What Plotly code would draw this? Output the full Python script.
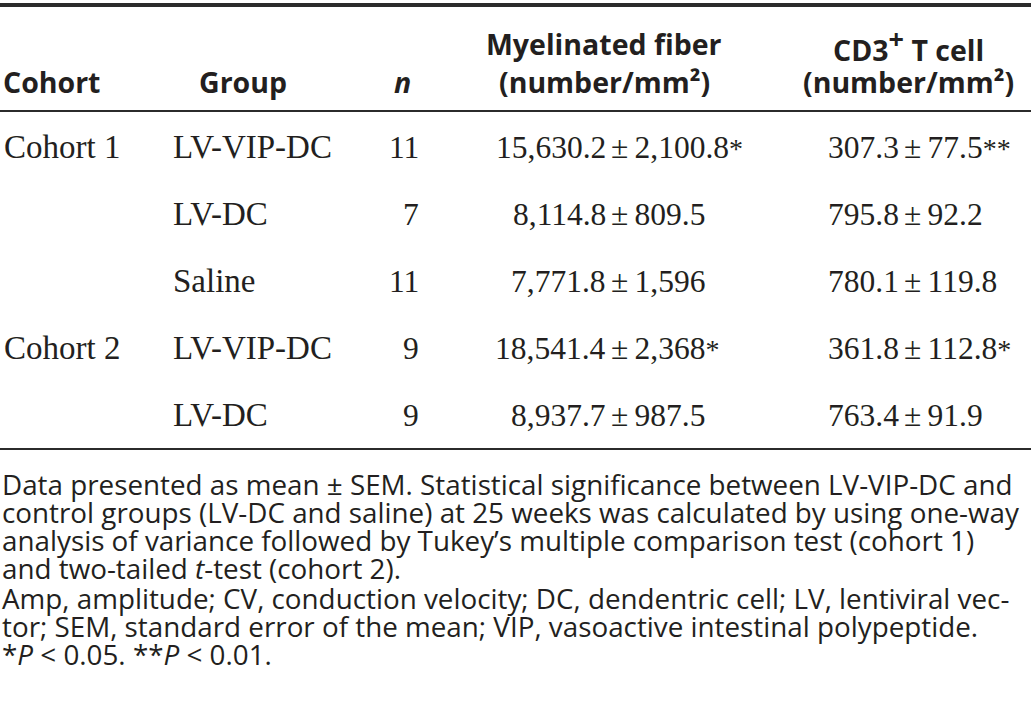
import plotly.graph_objects as go

# ---------------- data ----------------
cohorts = ["Cohort 1", "", "", "Cohort 2", ""]
groups = ["LV-VIP-DC", "LV-DC", "Saline", "LV-VIP-DC", "LV-DC"]
n_values = ["11", "7", "11", "9", "9"]
fiber_mean = ["15,630.2", "8,114.8", "7,771.8", "18,541.4", "8,937.7"]
fiber_sem = ["2,100.8", "809.5", "1,596", "2,368", "987.5"]
fiber_sig = ["*", "", "", "*", ""]
cd3_mean = ["307.3", "795.8", "780.1", "361.8", "763.4"]
cd3_sem = ["77.5", "92.2", "119.8", "112.8", "91.9"]
cd3_sig = ["**", "", "", "*", ""]

header_cols = ["Cohort", "Group", "<i>n</i>",
               "Myelinated fiber<br>(number/mm²)",
               "CD3<sup><span style=\"font-size:27px\">+</span></sup> T cell<br>(number/mm²)"]

footnotes = [
    "Data presented as mean ± SEM. Statistical significance between LV-VIP-DC and",
    "control groups (LV-DC and saline) at 25 weeks was calculated by using one-way",
    "analysis of variance followed by Tukey’s multiple comparison test (cohort 1)",
    "and two-tailed <i>t</i>-test (cohort 2).",
    "Amp, amplitude; CV, conduction velocity; DC, dendentric cell; LV, lentiviral vec-",
    "tor; SEM, standard error of the mean; VIP, vasoactive intestinal polypeptide.",
    "*<i>P</i> &lt; 0.05. **<i>P</i> &lt; 0.01.",
]

# ---------------- style / layout ----------------
W, H = 1036, 702
TXT = "#231f20"
SERIF = "Liberation Serif"
SANS = "Open Sans"
BODY_SIZE = 33
NUM_SIZE = 31.5
STAR_SIZE = 28
HEAD_SIZE = 28.5
FOOT_SIZE = 27.8

cohort_x = 4
group_x = 173
n_x = 419
fiber_pm_x = 611
cd3_pm_x = 904
pm_gap = 5

head_line1_y = 44
head_line2_y = 82
head_centers = {"Group": 243, "n": 402, "fiber": 604, "cd3": 908}

row0_y = 147
row_step = 67

rule_top_y = 5
rule_head_y = 111
rule_bot_y = 449
rule_x0, rule_x1 = 0, 1031

foot0_y = 484
foot_step = 28.0

fig = go.Figure()
fig.add_trace(go.Scatter(x=[0, W], y=[0, H], mode="lines",
                         line=dict(width=0, color="rgba(0,0,0,0)"),
                         hoverinfo="skip", showlegend=False))

ann = []


def add(text, x, y, xanchor, font, size, yanchor="middle"):
    ann.append(dict(text=text, x=x, y=y, xref="x", yref="y",
                    xanchor=xanchor, yanchor=yanchor, showarrow=False,
                    borderpad=0, borderwidth=0,
                    align="center" if xanchor == "center" else xanchor,
                    font=dict(family=font, size=size, color=TXT)))


def star(s):
    return f'<span style="font-size:{STAR_SIZE}px">{s}</span>' if s else ""


# header
add("<b>" + header_cols[0] + "</b>", cohort_x - 1, head_line2_y, "left", SANS, HEAD_SIZE)
add("<b>" + header_cols[1] + "</b>", head_centers["Group"], head_line2_y, "center", SANS, HEAD_SIZE)
add("<b>" + header_cols[2] + "</b>", head_centers["n"], head_line2_y, "center", SANS, HEAD_SIZE)
for key, txt in (("fiber", header_cols[3]), ("cd3", header_cols[4])):
    l1, l2 = txt.split("<br>")
    add("<b>" + l1 + "</b>", head_centers[key], head_line1_y, "center", SANS, HEAD_SIZE)
    add("<b>" + l2 + "</b>", head_centers[key], head_line2_y, "center", SANS, HEAD_SIZE)

# body rows
for i in range(len(groups)):
    y = row0_y + i * row_step
    if cohorts[i]:
        add(cohorts[i], cohort_x, y, "left", SERIF, BODY_SIZE)
    add(groups[i], group_x, y, "left", SERIF, BODY_SIZE)
    add(n_values[i], n_x, y, "right", SERIF, NUM_SIZE)
    add(fiber_mean[i], fiber_pm_x - pm_gap, y, "right", SERIF, NUM_SIZE)
    add("±\u2009" + fiber_sem[i] + star(fiber_sig[i]), fiber_pm_x, y, "left", SERIF, NUM_SIZE)
    add(cd3_mean[i], cd3_pm_x - pm_gap, y, "right", SERIF, NUM_SIZE)
    add("±\u2009" + cd3_sem[i] + star(cd3_sig[i]), cd3_pm_x, y, "left", SERIF, NUM_SIZE)

# footnotes
for j, line in enumerate(footnotes):
    add(line, 2, foot0_y + j * foot_step + (2 if j >= 4 else 0), "left", SANS, FOOT_SIZE)

shapes = []
for yy, w in ((rule_top_y, 4), (rule_head_y, 2.2), (rule_bot_y, 2.2)):
    shapes.append(dict(type="line", xref="x", yref="y", x0=rule_x0, x1=rule_x1,
                       y0=yy, y1=yy, line=dict(color="#2b2b2b", width=w)))

fig.update_layout(
    width=W, height=H, margin=dict(l=0, r=0, t=0, b=0),
    paper_bgcolor="white", plot_bgcolor="white",
    xaxis=dict(range=[0, W], visible=False, fixedrange=True),
    yaxis=dict(range=[H, 0], visible=False, fixedrange=True),
    annotations=ann, shapes=shapes, showlegend=False,
)

fig.write_html("out.html", config={"displayModeBar": False},
               post_script="document.body.style.margin='0';")
